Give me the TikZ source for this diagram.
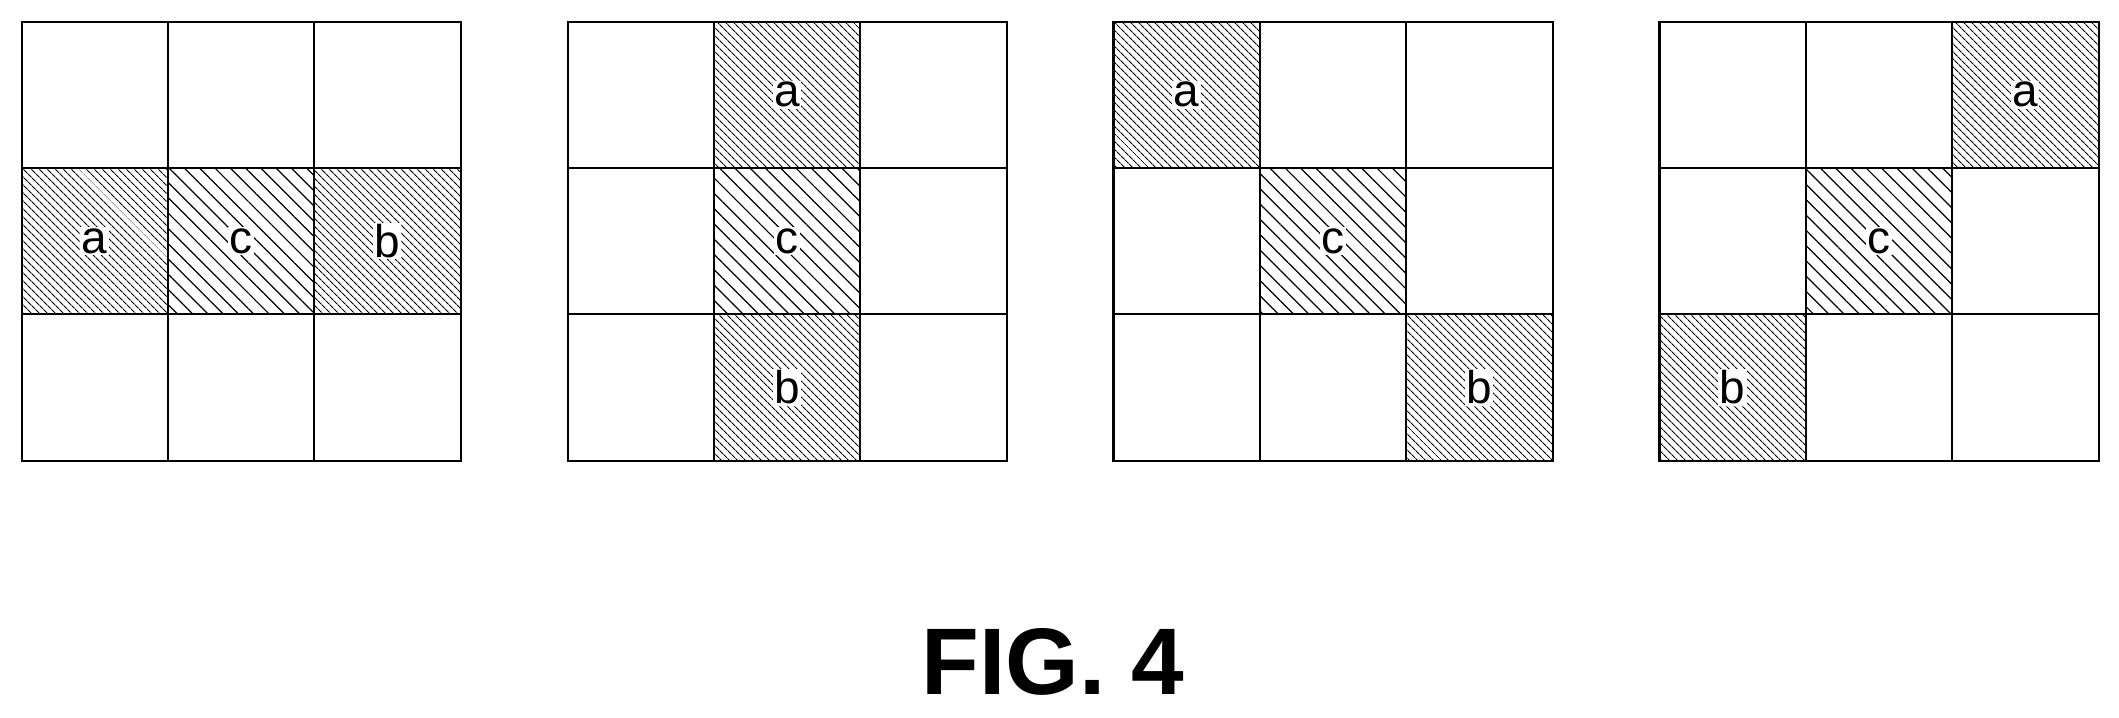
\documentclass[tikz,border=0pt]{standalone}
\usepackage{fontspec}
\setmainfont{Liberation Sans}
\usetikzlibrary{patterns.meta}
\tikzset{
  cellbox/.style={draw=black,line width=1.6pt},
  densehatch/.style={pattern={Lines[angle=-45,distance=4pt,line width=0.9pt]}},
  widehatch/.style={pattern={Lines[angle=-45,distance=8pt,line width=0.9pt]}},
  celllabel/.style={fill=white,inner sep=1pt,font=\fontsize{34}{40}\selectfont}
}
\begin{document}
\begin{tikzpicture}[x=1pt,y=-1pt]
\useasboundingbox (0,0) rectangle (1568,531);
% hatched cells: grid offset / a column,row / c column,row / b column,row
\foreach \ox/\ac/\ar/\cc/\cr/\bc/\br [count=\g] in
  {16/0/1/1/1/2/1, 420/1/0/1/1/1/2, 824/0/0/1/1/2/2, 1228/2/0/1/1/0/2}{
  \fill[densehatch] (\ox+\ac*108.3,16+\ar*108.3) rectangle ++(108.3,108.3);
  \fill[widehatch] (\ox+\cc*108.3,16+\cr*108.3) rectangle ++(108.3,108.3);
  \fill[densehatch] (\ox+\bc*108.3,16+\br*108.3) rectangle ++(108.3,108.3);
  \foreach \i in {0,1,2}
    \foreach \j in {0,1,2}
      \draw[cellbox] (\ox+\i*108.3,16+\j*108.3) rectangle ++(108.3,108.3);
  \node[celllabel] (a\g) at (\ox+\ac*108.3+54,16+\ar*108.3+54) {a};
  \node[celllabel] (c\g) at (\ox+\cc*108.3+54,16+\cr*108.3+54) {c};
  \node[celllabel] (b\g) at (\ox+\bc*108.3+54,16+\br*108.3+54) {b};
}
\node[font=\fontsize{70}{80}\selectfont\bfseries] (fig) at (779,490) {FIG. 4};
\end{tikzpicture}
\end{document}
